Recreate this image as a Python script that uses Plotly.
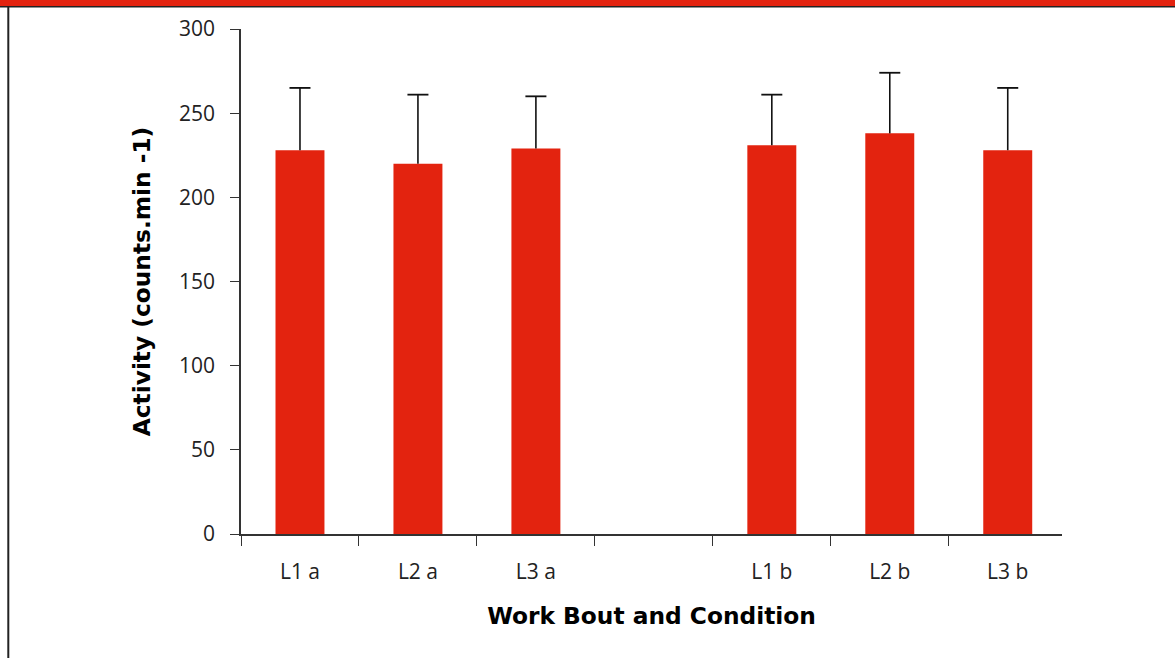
import plotly.graph_objects as go

categories = ["L1 a", "L2 a", "L3 a", " ", "L1 b", "L2 b", "L3 b"]
activity = [228, 220, 229, None, 231, 238, 228]
errors = [37, 41, 31, None, 30, 36, 37]
y_ticks = [0, 50, 100, 150, 200, 250, 300]

RED = "#e3230f"
W, H = 1175, 658
L, R, T, B = 241, 113, 29, 124
pw = W - L - R
ph = H - T - B

error_tops = [None if v is None else v + e for v, e in zip(activity, errors)]
zeros = [None if v is None else 0 for v in activity]

fig = go.Figure()
fig.add_trace(go.Bar(
    x=categories,
    y=activity,
    marker=dict(color=RED, line=dict(width=0)),
    error_y=dict(
        type="data",
        symmetric=False,
        array=errors,
        arrayminus=zeros,
        color="#111111",
        thickness=1.6,
        width=0,
    ),
    showlegend=False,
    hoverinfo="x+y",
))
# caps of the error bars (top end only)
fig.add_trace(go.Scatter(
    x=categories,
    y=error_tops,
    mode="markers",
    marker=dict(symbol="line-ew", size=15, line=dict(color="#111111", width=1.8)),
    showlegend=False,
    hoverinfo="skip",
))

# frame decorations: red banner at top, left border
fig.add_shape(type="rect", xref="paper", yref="paper",
              x0=-L / pw, x1=(W - L) / pw,
              y0=(H - B - 6.5) / ph, y1=(H - B + 2) / ph,
              fillcolor=RED, line=dict(width=0), layer="above")
fig.add_shape(type="line", xref="paper", yref="paper",
              x0=-L / pw, x1=(W - L) / pw,
              y0=(H - B - 6.8) / ph, y1=(H - B - 6.8) / ph,
              line=dict(color="#222222", width=1.5))
fig.add_shape(type="line", xref="paper", yref="paper",
              x0=-(L - 8.3) / pw, x1=-(L - 8.3) / pw,
              y0=-(B + 2) / ph, y1=(H - B - 7) / ph,
              line=dict(color="#222222", width=2))

fig.update_layout(
    width=W, height=H,
    margin=dict(l=L, r=R, t=T, b=B, autoexpand=False),
    paper_bgcolor="white",
    plot_bgcolor="white",
    bargap=0.585,
    xaxis=dict(
        type="category",
        categoryorder="array",
        categoryarray=categories,
        range=[-0.5, 6.46],
        tickson="boundaries",
        ticks="outside",
        ticklen=10,
        tickwidth=1.3,
        tickcolor="#333333",
        showline=True,
        linecolor="#333333",
        linewidth=1.5,
        showgrid=False,
        zeroline=False,
        tickfont=dict(family="Open Sans", size=21, color="#222222"),
        ticklabelstandoff=18,
        title=dict(
            text="Work Bout and Condition",
            font=dict(family="DejaVu Sans", size=23.3, color="#000000", weight="bold"),
            standoff=24,
        ),
    ),
    yaxis=dict(
        range=[0, 300],
        tickvals=y_ticks,
        ticktext=[str(v) for v in y_ticks],
        ticks="outside",
        ticklen=9,
        tickwidth=1.3,
        tickcolor="#333333",
        showline=True,
        linecolor="#333333",
        linewidth=1.5,
        showgrid=False,
        zeroline=False,
        tickfont=dict(family="Open Sans", size=21, color="#222222"),
        ticklabelstandoff=11,
        title=dict(
            text="Activity (counts.min -1)",
            font=dict(family="DejaVu Sans", size=23.3, color="#000000", weight="bold"),
            standoff=22,
        ),
    ),
)

fig.write_html(
    "out.html",
    config={"displayModeBar": False},
    post_script="document.body.style.margin='0';",
)
